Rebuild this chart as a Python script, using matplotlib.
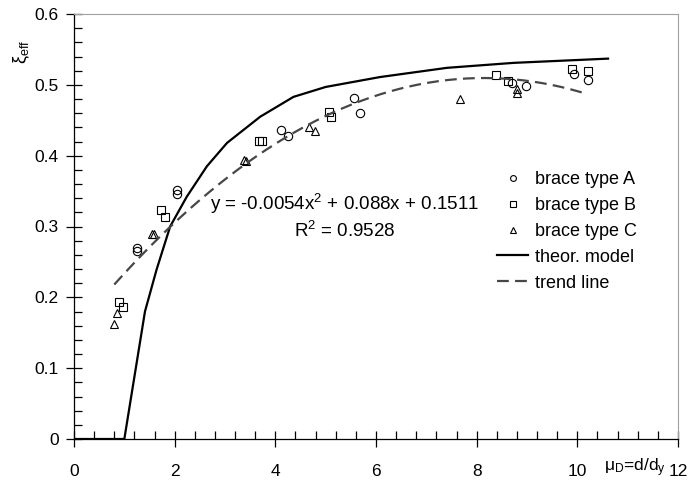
import numpy as np
import matplotlib
matplotlib.use("Agg")
import matplotlib.pyplot as plt

# =========================================
# DATA
# =========================================
# measured effective damping, grouped by brace type
type_a_mu = [1.26, 1.26, 2.05, 2.05, 4.11, 4.26, 5.57, 5.69, 8.71, 8.99, 9.93, 10.22]
type_a_xi = [0.269, 0.265, 0.351, 0.346, 0.436, 0.428, 0.481, 0.460, 0.502, 0.498, 0.516, 0.507]

type_b_mu = [0.895, 0.97, 1.73, 1.80, 3.68, 3.74, 5.06, 5.11, 8.38, 8.63, 9.89, 10.22]
type_b_xi = [0.194, 0.187, 0.324, 0.314, 0.421, 0.421, 0.461, 0.455, 0.514, 0.505, 0.522, 0.520]

type_c_mu = [0.795, 0.85, 1.545, 1.59, 3.38, 3.42, 4.66, 4.78, 7.66, 8.81, 8.81]
type_c_xi = [0.162, 0.178, 0.290, 0.290, 0.394, 0.392, 0.440, 0.435, 0.480, 0.494, 0.489]

# theoretical model curve
theor_mu = [0.0, 1.0, 1.41, 1.64, 1.91, 2.24, 2.64, 3.04, 3.70, 4.36, 5.0, 6.08, 7.41, 8.73, 10.61]
theor_xi = [0.0, 0.0, 0.180, 0.239, 0.300, 0.342, 0.385, 0.418, 0.455, 0.483, 0.497, 0.511, 0.524, 0.531, 0.537]

# quadratic trend line fitted to all tests
trend_coef = [-0.0054, 0.088, 0.1511]
trend_r2 = 0.9528
trend_range = (0.8, 10.2)

OUTPUT_PATH = "out.png"


# =========================================
# PLOT
# =========================================
def plot_damping():
    plt.rcParams["font.family"] = ["Liberation Sans", "DejaVu Sans"]
    plt.rcParams["mathtext.fontset"] = "custom"
    plt.rcParams["mathtext.rm"] = "Liberation Sans"
    plt.rcParams["mathtext.it"] = "Liberation Sans"
    plt.rcParams["mathtext.default"] = "regular"
    plt.rcParams["lines.scale_dashes"] = False

    fig = plt.figure(figsize=(6.9, 4.8), dpi=100)
    ax = fig.add_axes([74 / 690, 1 - 439 / 480, 604 / 690, 425 / 480])

    mk = dict(linestyle="none", markerfacecolor="none", markeredgecolor="black",
              markeredgewidth=0.8, markersize=6)
    ax.plot(type_a_mu, type_a_xi, marker="o", label="brace type A", **mk)
    ax.plot(type_b_mu, type_b_xi, marker="s", label="brace type B", **mk)
    ax.plot(type_c_mu, type_c_xi, marker="^", label="brace type C", **mk)

    ax.plot(theor_mu, theor_xi, color="black", linewidth=1.6, label="theor. model")

    x_trend = np.linspace(trend_range[0], trend_range[1], 200)
    ax.plot(x_trend, np.polyval(trend_coef, x_trend), color="#474747",
            linewidth=1.6, dashes=(8.5, 4.5), label="trend line")

    eq = (f"y = {trend_coef[0]}x$^2$ + {trend_coef[1]}x + {trend_coef[2]}\n"
          f"R$^2$ = {trend_r2}")
    ax.text(5.37, 0.314, eq, ha="center", va="center", multialignment="center",
            fontsize=13.5, linespacing=1.3)

    # axes
    ax.set_xlim(0, 12)
    ax.set_ylim(0, 0.6)
    ax.set_xticks(np.arange(0, 13, 2))
    ax.set_xticks(np.arange(0, 12.01, 0.4), minor=True)
    ax.set_yticks(np.arange(0, 0.61, 0.1))
    ax.set_yticks(np.arange(0, 0.601, 0.02), minor=True)
    ax.set_xticklabels(["0", "2", "4", "6", "8", "10", "12"])
    ax.set_yticklabels(["0", "0.1", "0.2", "0.3", "0.4", "0.5", "0.6"])
    ax.tick_params(which="major", direction="inout", length=12, width=0.9,
                   labelsize=12.5)
    ax.tick_params(axis="x", which="major", pad=12)
    ax.tick_params(axis="y", which="major", pad=5)
    ax.tick_params(which="minor", direction="in", length=6, width=0.9)

    for side in ("top", "right"):
        ax.spines[side].set_color("#a0a0a0")
    for side in ("left", "bottom"):
        ax.spines[side].set_linewidth(0.9)

    fig.text(22 / 690, 1 - 52 / 480, r"$\xi_{eff}$", rotation=90,
             ha="center", va="center", fontsize=13)
    fig.text(666 / 690, 1 - 468 / 480, r"$\mu_{D}$=d/d$_{y}$", ha="right",
             va="center", fontsize=12.5)

    ax.legend(loc="upper left", bbox_to_anchor=(0.70, 0.63), frameon=False,
              fontsize=13, markerscale=0.7, handlelength=1.75, handletextpad=0.35,
              labelspacing=0.49, borderpad=0, borderaxespad=0)

    fig.savefig(OUTPUT_PATH, dpi=100)


if __name__ == "__main__":
    plot_damping()
